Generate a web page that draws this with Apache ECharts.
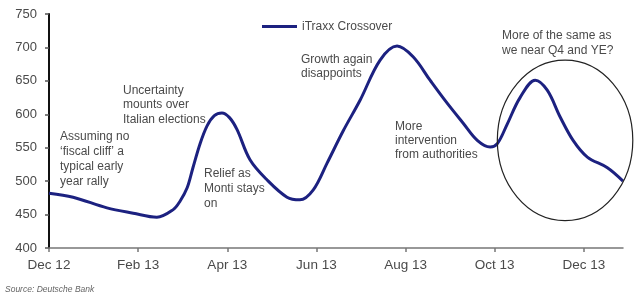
<!DOCTYPE html>
<html>
<head>
<meta charset="utf-8">
<script src="https://cdn.jsdelivr.net/npm/echarts@6/dist/echarts.min.js"></script>
<style>
html,body{margin:0;padding:0;background:#fff;}
#c{width:640px;height:303px;}
</style>
</head>
<body>
<div id="c"></div>
<script>
// months since Dec 2012
var months = [0, 0.54, 1.30, 1.89, 2.42, 2.78, 2.94, 3.10, 3.23, 3.39, 3.55, 3.71, 3.88, 4.05, 4.22, 4.51, 4.89, 5.34, 5.63, 5.93, 6.24, 6.60, 6.98, 7.43, 7.81, 8.17, 8.55, 8.93, 9.29, 9.61, 9.90, 10.06, 10.28, 10.57, 10.91, 11.18, 11.47, 11.76, 12.08, 12.53, 12.88];
var itraxx = [482, 476, 460, 452, 446, 457, 470, 490, 520, 556, 583, 598, 602, 595, 577, 532, 502, 476, 472, 487, 527, 575, 621, 681, 702, 686, 651, 617, 587, 561, 551, 556, 585, 625, 651, 636, 596, 561, 536, 520, 500];
var tickMonths = [0, 2, 4, 6, 8, 10, 12];
var tickLabels = ['Dec 12', 'Feb 13', 'Apr 13', 'Jun 13', 'Aug 13', 'Oct 13', 'Dec 13'];
var seriesName = 'iTraxx Crossover';

var notes = [
  {text: 'Assuming no\n\u2018fiscal cliff\u2019 a\ntypical early\nyear rally', left: 60, top: 129, lh: 15},
  {text: 'Uncertainty\nmounts over\nItalian elections', left: 123, top: 83, lh: 14.5},
  {text: 'Relief as\nMonti stays\non', left: 204, top: 166, lh: 15},
  {text: 'Growth again\ndisappoints', left: 301, top: 52, lh: 14.5},
  {text: 'More\nintervention\nfrom authorities', left: 395, top: 120, lh: 14},
  {text: 'More of the same as\nwe near Q4 and YE?', left: 502, top: 28, lh: 15}
];

var data = months.map(function (m, i) { return [m, itraxx[i]]; });
var chart = echarts.init(document.getElementById('c'), null, {renderer: 'canvas'});
var txtColor = '#4a4a4a';
var lineColor = '#1c2180';
chart.setOption({
  animation: false,
  backgroundColor: '#fff',
  grid: {left: 49, right: 17, top: 14, bottom: 55},
  legend: {
    left: 257, top: 15.5, itemWidth: 35, itemHeight: 3, icon: 'rect',
    itemStyle: {color: lineColor},
    textStyle: {fontFamily: 'Liberation Sans', fontSize: 12, color: txtColor},
    data: [seriesName]
  },
  xAxis: {
    type: 'value', min: 0, max: 12.88,
    axisLine: {lineStyle: {color: '#777', width: 1.5}},
    axisTick: {show: true, length: 4, customValues: tickMonths, lineStyle: {color: '#777', width: 1.5}},
    axisLabel: {
      customValues: tickMonths, margin: 10,
      fontFamily: 'Liberation Sans', fontSize: 13.5, color: txtColor,
      formatter: function (v) { var i = tickMonths.indexOf(Math.round(v)); return i >= 0 ? tickLabels[i] : ''; }
    },
    splitLine: {show: false}
  },
  yAxis: {
    type: 'value', min: 400, max: 750, interval: 50,
    axisLine: {show: true, lineStyle: {color: '#111', width: 2}},
    axisTick: {show: true, length: 4, lineStyle: {color: '#555', width: 1.5}},
    axisLabel: {margin: 12, fontFamily: 'Liberation Sans', fontSize: 13, color: txtColor},
    splitLine: {show: false}
  },
  series: [{
    name: seriesName, type: 'line', data: data, smooth: 0.35,
    symbol: 'none', showSymbol: false,
    lineStyle: {color: lineColor, width: 3},
    itemStyle: {color: lineColor}
  }]
});

var gr = notes.map(function (n) {
  return {type: 'text', left: n.left, top: n.top, z: 10,
    style: {text: n.text, fontFamily: 'Liberation Sans', fontSize: 12, lineHeight: n.lh, fill: txtColor}};
});
gr.push({type: 'text', left: 5, top: 285, z: 10,
  style: {text: 'Source: Deutsche Bank', fontFamily: 'Liberation Sans', fontStyle: 'italic', fontSize: 8.5, fill: '#666'}});
// circled region anchored to data coordinates
var c = chart.convertToPixel({gridIndex: 0}, [11.58, 561]);
var tr = chart.convertToPixel({gridIndex: 0}, [13.1, 681]);
gr.push({type: 'ellipse', z: 5, shape: {cx: c[0], cy: c[1], rx: tr[0] - c[0], ry: c[1] - tr[1]},
  style: {fill: 'none', stroke: '#222', lineWidth: 1.2}});
chart.setOption({graphic: gr});
</script>
</body>
</html>
